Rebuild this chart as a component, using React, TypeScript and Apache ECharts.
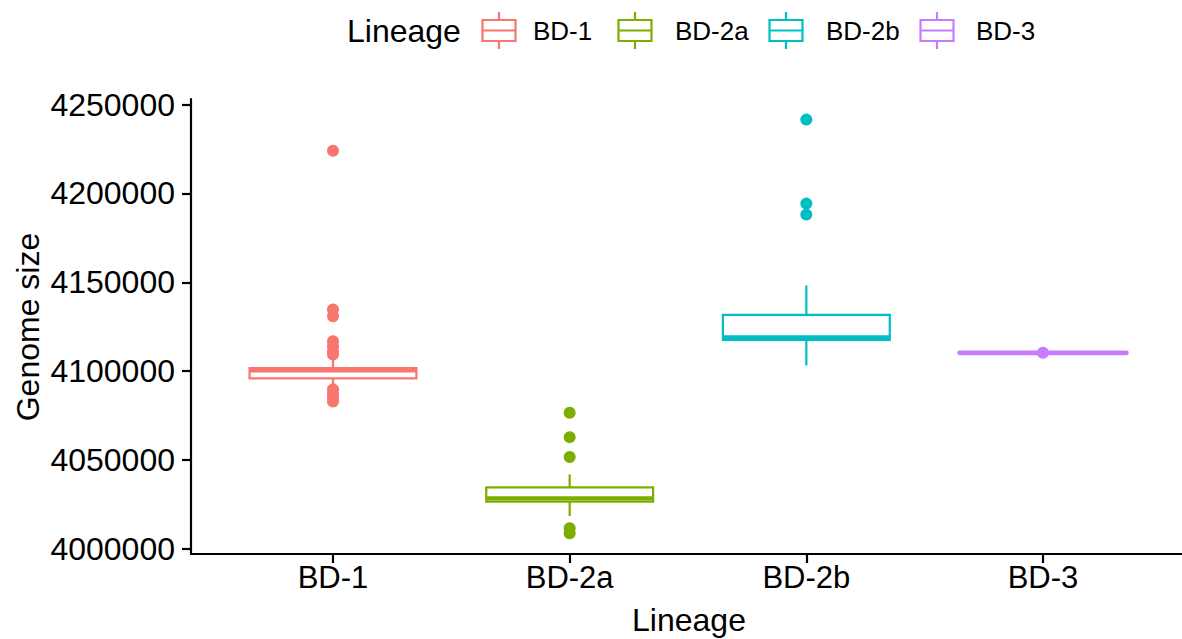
import React, { useEffect, useRef } from "react";
import * as echarts from "echarts";

const categories = ["BD-1", "BD-2a", "BD-2b", "BD-3"];
const colors = ["#F8766D", "#7CAE00", "#00BFC4", "#C77CFF"];
const lowerWhisker = [4092000, 4018400, 4103200, 4110300];
const q1 = [4095900, 4026500, 4117500, 4110300];
const median = [4100500, 4028300, 4119000, 4110300];
const q3 = [4101700, 4034500, 4131600, 4110300];
const upperWhisker = [4106500, 4041800, 4148200, 4110300];
const outliersBD1 = [4224100, 4134700, 4130900, 4116800, 4114000, 4111000, 4109300, 4089700, 4087400, 4085200, 4082900];
const outliersBD2a = [4076500, 4062800, 4051600, 4011500, 4008700];
const outliersBD2b = [4241600, 4194300, 4188100];
const outliersBD3 = [4110300];
const outliers = [outliersBD1, outliersBD2a, outliersBD2b, outliersBD3];
const yTicks = [4000000, 4050000, 4100000, 4150000, 4200000, 4250000];
const xTicks = [1, 2, 3, 4];

const FONT = "'Liberation Sans', Arial, Helvetica, sans-serif";

const legendIconX = [499, 635, 786, 937];
const legendLabelX = [533, 675, 826, 976];

export default function App() {
  const ref = useRef<HTMLDivElement>(null);
  useEffect(() => {
    if (!ref.current) return;
    const chart = echarts.init(ref.current, undefined, { renderer: "svg" });

    const boxSeries = categories.map((name, i) => ({
      type: "custom",
      name,
      z: 2,
      data: [[i + 1, lowerWhisker[i], q1[i], median[i], q3[i], upperWhisker[i]]],
      renderItem: (params: any, api: any) => {
        const x = api.value(0);
        const pLow = api.coord([x, api.value(1)]);
        const pQ1 = api.coord([x, api.value(2)]);
        const pMed = api.coord([x, api.value(3)]);
        const pQ3 = api.coord([x, api.value(4)]);
        const pHigh = api.coord([x, api.value(5)]);
        const hw = api.size([0.705, 0])[0] / 2;
        const cx = pMed[0];
        const color = colors[i];
        const flat = pQ1[1] - pQ3[1] < 1;
        const children: any[] = [
          { type: "line", shape: { x1: cx, y1: pQ3[1], x2: cx, y2: pHigh[1] }, style: { stroke: color, lineWidth: 2.2 } },
          { type: "line", shape: { x1: cx, y1: pQ1[1], x2: cx, y2: pLow[1] }, style: { stroke: color, lineWidth: 2.2 } },
        ];
        if (!flat) {
          children.push({
            type: "rect",
            shape: { x: cx - hw, y: pQ3[1], width: 2 * hw, height: pQ1[1] - pQ3[1] },
            style: { fill: "#ffffff", stroke: color, lineWidth: 2.2 },
          });
        }
        children.push({
          type: "line",
          shape: { x1: cx - hw, y1: pMed[1], x2: cx + hw, y2: pMed[1] },
          style: { stroke: color, lineWidth: flat ? 4.8 : 4.4, lineCap: flat ? "round" : "butt" },
        });
        return { type: "group", children };
      },
    }));

    const pointSeries = categories.map((name, i) => ({
      type: "scatter",
      name: name + " outliers",
      z: 3,
      symbol: "circle",
      symbolSize: 12,
      itemStyle: { color: colors[i], opacity: 1 },
      data: outliers[i].map((v) => [i + 1, v]),
    }));

    const legendGraphics: any[] = [
      {
        type: "text",
        x: 347,
        y: 31,
        style: { text: "Lineage", font: `32px ${FONT}`, fill: "#000", align: "left", verticalAlign: "middle" },
      },
    ];
    categories.forEach((name, i) => {
      const cx = legendIconX[i];
      const c = colors[i];
      legendGraphics.push(
        { type: "line", shape: { x1: cx, y1: 12, x2: cx, y2: 20 }, style: { stroke: c, lineWidth: 2.2 } },
        { type: "line", shape: { x1: cx, y1: 41, x2: cx, y2: 49 }, style: { stroke: c, lineWidth: 2.2 } },
        { type: "rect", shape: { x: cx - 16.5, y: 20, width: 33, height: 21 }, style: { fill: "#fff", stroke: c, lineWidth: 2.2 } },
        { type: "line", shape: { x1: cx - 16.5, y1: 30.5, x2: cx + 16.5, y2: 30.5 }, style: { stroke: c, lineWidth: 2.2 } },
        {
          type: "text",
          x: legendLabelX[i],
          y: 31,
          style: { text: name, font: `26px ${FONT}`, fill: "#000", align: "left", verticalAlign: "middle" },
        }
      );
    });

    chart.setOption({
      animation: false,
      backgroundColor: "#ffffff",
      grid: { left: 191, width: 994, top: 99, height: 455, containLabel: false },
      xAxis: {
        type: "value",
        min: 0.4,
        max: 4.6,
        axisLine: { show: true, lineStyle: { color: "#000", width: 2.2 } },
        axisTick: { show: true, customValues: xTicks, length: 9, lineStyle: { color: "#000", width: 2.2 } },
        axisLabel: {
          customValues: xTicks,
          formatter: (v: number) => categories[Math.round(v) - 1] ?? "",
          color: "#000",
          fontSize: 31,
          fontFamily: FONT,
          margin: 8,
        },
        splitLine: { show: false },
      },
      yAxis: {
        type: "value",
        min: 3997000,
        max: 4253200,
        axisLine: { show: true, lineStyle: { color: "#000", width: 2.2 } },
        axisTick: { show: true, customValues: yTicks, length: 9, lineStyle: { color: "#000", width: 2.2 } },
        axisLabel: {
          customValues: yTicks,
          formatter: (v: number) => String(v),
          color: "#000",
          fontSize: 32,
          fontFamily: FONT,
          margin: 16,
        },
        splitLine: { show: false },
      },
      graphic: [
        ...legendGraphics,
        {
          type: "text",
          x: 28,
          y: 327,
          rotation: Math.PI / 2,
          style: { text: "Genome size", font: `32px ${FONT}`, fill: "#000", align: "center", verticalAlign: "middle" },
        },
        {
          type: "text",
          x: 689,
          y: 620,
          style: { text: "Lineage", font: `32px ${FONT}`, fill: "#000", align: "center", verticalAlign: "middle" },
        },
      ],
      series: [...boxSeries, ...pointSeries],
    });
    return () => chart.dispose();
  }, []);

  return (
    <div
      ref={ref}
      style={{ position: "fixed", left: 0, top: 0, width: 1190, height: 639, background: "#fff" }}
    />
  );
}
